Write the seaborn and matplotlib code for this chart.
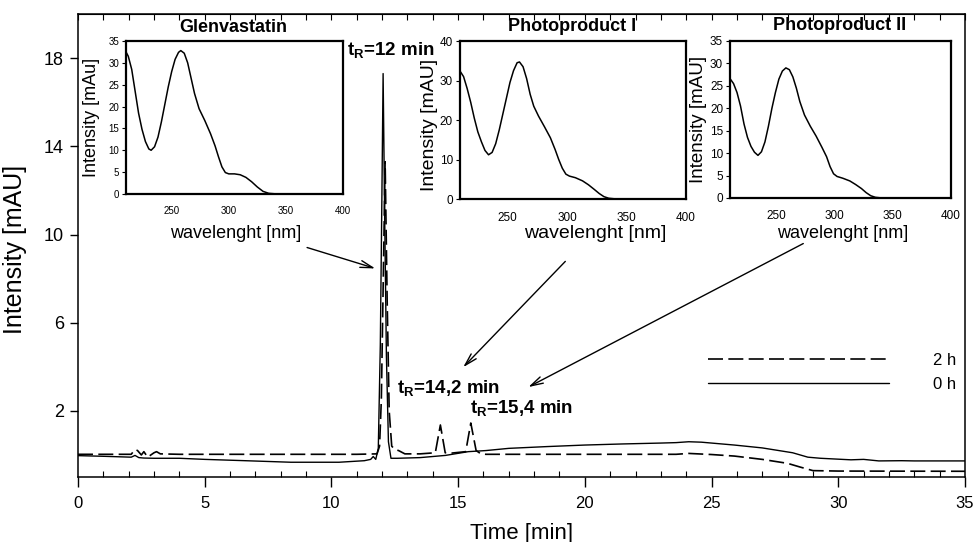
import matplotlib
matplotlib.use("Agg")
import matplotlib.pyplot as plt
import seaborn as sns

# chromatogram 0 h (solid line)
time_0h = [0, 1, 2.1, 2.25, 2.4, 2.6, 3.0, 4, 5, 6.6, 8.4, 10.3, 11.3, 11.55,
           11.65, 11.75, 11.85, 11.93, 11.99, 12.04, 12.1, 12.17, 12.25, 12.35,
           12.6, 13.5, 14.5, 15.4, 16.1, 17, 18.5, 20, 21.5, 23, 23.6, 24.1,
           24.6, 25.9, 27, 28.2, 28.8, 29.3, 30.5, 31, 31.6, 32.5, 33, 35]
int_0h = [-0.03, -0.06, -0.1, -0.02, -0.12, -0.14, -0.15, -0.15, -0.2, -0.26,
          -0.33, -0.33, -0.26, -0.2, -0.07, -0.2, 0.3, 5.0, 11.5, 17.3, 11.0,
          4.5, 0.6, -0.15, -0.15, -0.12, -0.02, 0.15, 0.2, 0.3, 0.38, 0.45,
          0.5, 0.54, 0.56, 0.6, 0.58, 0.45, 0.32, 0.1, -0.1, -0.15, -0.22,
          -0.2, -0.27, -0.26, -0.27, -0.27]

# chromatogram 2 h (dashed line)
time_2h = [0, 2.1, 2.25, 2.35, 2.5, 2.6, 2.75, 3.0, 3.1, 3.25, 4, 8, 11.0,
           11.8, 11.9, 11.97, 12.04, 12.12, 12.2, 12.28, 12.38, 12.5, 12.65,
           12.9, 13.5, 14.1, 14.3, 14.49, 14.7, 15.3, 15.5, 15.71, 15.9, 16.1,
           20, 23.6, 24.1, 25, 25.9, 27, 28, 28.5, 29.0, 30, 35]
int_2h = [0.03, 0.03, 0.25, 0.2, 0.0, 0.15, -0.1, 0.1, 0.15, 0.05, 0.03, 0.03,
          0.03, 0.05, 0.4, 2.5, 7.5, 13.3, 7.0, 2.0, 0.4, 0.25, 0.2, 0.05,
          0.05, 0.1, 1.36, 0.1, 0.08, 0.15, 1.45, 0.2, 0.05, 0.03, 0.03, 0.03,
          0.07, 0.02, -0.05, -0.2, -0.38, -0.55, -0.71, -0.73, -0.74]

# UV spectra shown in the insets
wl_glen = [210, 212, 215, 218, 221, 224, 227, 230, 232, 235, 238, 241, 244,
           247, 250, 253, 256, 258, 261, 264, 267, 270, 274, 279, 284, 288,
           291, 294, 297, 300, 305, 310, 315, 320, 325, 330, 335, 340, 350, 400]
spec_glen = [32.5, 31.5, 28.5, 23.5, 18.5, 14.8, 12, 10.3, 10, 10.8, 13,
             16.5, 20.5, 24.5, 28, 30.8, 32.4, 32.8, 32.2, 30, 26.5, 23, 19.5,
             16.8, 13.8, 11, 8.5, 6.2, 4.9, 4.6, 4.6, 4.4, 3.8, 2.8, 1.6, 0.6,
             0.15, 0.05, 0, 0]
wl_p1 = [210, 213, 216, 219, 222, 225, 228, 231, 234, 237, 240, 243, 246,
         249, 252, 255, 258, 260, 263, 266, 269, 272, 276, 281, 286, 290,
         293, 296, 299, 302, 307, 313, 318, 323, 327, 331, 335, 340, 350, 400]
spec_p1 = [32.4, 31, 28, 24.5, 20.5, 17, 14.5, 12.3, 11.2, 11.8, 14, 17.5,
           21.5, 25.5, 29.5, 32.5, 34.5, 34.7, 33.5, 30.5, 26.5, 23.5, 21,
           18.3, 15.5, 12.5, 10, 7.8, 6.3, 5.8, 5.4, 4.6, 3.6, 2.4, 1.4, 0.6,
           0.2, 0.05, 0, 0]
wl_p2 = [210, 213, 216, 219, 222, 225, 228, 231, 234, 237, 240, 243, 246,
         249, 252, 255, 258, 261, 264, 267, 270, 274, 279, 284, 289, 293,
         296, 299, 302, 307, 313, 318, 323, 327, 331, 335, 340, 350, 400]
spec_p2 = [26.6, 25.5, 23.5, 20.5, 16.5, 13.5, 11.5, 10.2, 9.5, 10.3, 12.5,
           16, 20, 23.5, 26.5, 28.3, 29, 28.6, 27, 24.5, 21.5, 18.5, 16, 13.8,
           11.3, 9.2, 7, 5.4, 4.8, 4.4, 3.8, 3, 2.1, 1.2, 0.5, 0.15, 0.02, 0, 0]

inset_titles = ["Glenvastatin", "Photoproduct I", "Photoproduct II"]
inset_ylabels = ["Intensity [mAu]", "Intensity [mAU]", "Intensity [mAU]"]
peak_times = ["12", "14,2", "15,4"]
legend_labels = ["2 h", "0 h"]

"Style"
sns.set_style("ticks")
plt.rcParams["font.family"] = ["Liberation Sans", "DejaVu Sans"]
plt.rcParams["mathtext.fontset"] = "custom"
plt.rcParams["mathtext.rm"] = "Liberation Sans"
plt.rcParams["mathtext.bf"] = "Liberation Sans:bold"
plt.rcParams["axes.edgecolor"] = "black"
plt.rcParams["axes.labelcolor"] = "black"
plt.rcParams["text.color"] = "black"
plt.rcParams["xtick.color"] = "black"
plt.rcParams["ytick.color"] = "black"

fig = plt.figure(figsize=(9.76, 5.42), dpi=100)
ax = fig.add_axes([0.0799, 0.1199, 0.9088, 0.8542])

"Chromatogram"
dash = (0, (9, 3.2))
sns.lineplot(x=time_2h, y=int_2h, ax=ax, color="black", lw=1.2,
             linestyle=dash, estimator=None, sort=False, label=legend_labels[0])
sns.lineplot(x=time_0h, y=int_0h, ax=ax, color="black", lw=1.0,
             estimator=None, sort=False, label=legend_labels[1])

ax.set_xlim(0, 35)
ax.set_ylim(-1, 20)
ax.set_xticks(range(0, 36, 5))
ax.set_xticks(range(0, 36), minor=True)
ax.set_yticks([2, 6, 10, 14, 18])
ax.tick_params(axis="x", which="major", direction="out", length=7, width=1,
               labelsize=12, pad=7)
ax.tick_params(axis="x", which="minor", direction="in", length=4, width=0.8)
ax.tick_params(axis="y", which="major", direction="out", length=6, width=1,
               labelsize=13, pad=4)
for spine in ax.spines.values():
    spine.set_linewidth(1.1)

top = ax.secondary_xaxis("top")
top.set_xticks(range(0, 36, 5))
top.set_xticks(range(0, 36), minor=True)
top.tick_params(which="both", direction="in", length=4, width=0.8,
                labeltop=False)

ax.set_xlabel("Time [min]", fontsize=16, labelpad=8)
ax.set_ylabel("Intensity [mAU]", fontsize=18)
ax.yaxis.set_label_coords(-0.057, 0.492)

"Legend"
handles = ax.get_lines()[:2]
ax.legend(handles, legend_labels, loc="upper left",
          bbox_to_anchor=(0.710, 0.268), frameon=False, fontsize=12,
          handlelength=10.9, handletextpad=2.6, labelspacing=0.55,
          borderpad=0, borderaxespad=0)

"Peak labels"
label_pos = [(10.62, 18.35), (12.6, 3.05), (15.45, 2.15)]
for (x, y), t in zip(label_pos, peak_times):
    ax.text(x, y, r"$\mathbf{t_R}$" + f"={t} min", fontsize=13.5,
            fontweight="bold", ha="left", va="center")

"Arrows"
arrows = [((9.04, 9.41), (11.73, 8.46)),
          ((19.23, 8.78), (15.2, 3.98)),
          ((28.62, 9.59), (17.77, 3.08))]
for start, end in arrows:
    ax.annotate("", xy=end, xytext=start,
                arrowprops=dict(arrowstyle="->,head_length=0.9,head_width=0.25",
                                color="black", lw=1.0, shrinkA=0, shrinkB=0))

"Insets"
inset_rects = [[0.1291, 0.6421, 0.2223, 0.2823],
               [0.4713, 0.6328, 0.2316, 0.2915],
               [0.7480, 0.6347, 0.2264, 0.2897]]
inset_data = [(wl_glen, spec_glen), (wl_p1, spec_p1), (wl_p2, spec_p2)]
inset_ylims = [(0, 35), (0, 40), (0, 35)]
inset_yticks = [range(0, 36, 5), range(0, 41, 10), range(0, 36, 5)]
tick_sizes = [7, 8.5, 8.5]
xlabel_sizes = [13, 14, 13]
ylabel_sizes = [13, 14, 13.5]
ylabel_x = [-0.12, -0.097, -0.104]
ylabel_y = [0.5, 0.47, 0.5]
xlabel_y = [-0.203, -0.165, -0.17]
xlabel_x = [0.507, 0.6, 0.51]
title_y = [1.09, 1.089, 1.10]

for i, rect in enumerate(inset_rects):
    ins = fig.add_axes(rect)
    wl, spec = inset_data[i]
    sns.lineplot(x=wl, y=spec, ax=ins, color="black", lw=1.1,
                 estimator=None, sort=False)
    ins.set_xlim(210, 400)
    ins.set_ylim(*inset_ylims[i])
    ins.set_xticks([250, 300, 350, 400])
    ins.set_yticks(list(inset_yticks[i]))
    ins.tick_params(axis="x", length=0, labelsize=tick_sizes[i], pad=9)
    ins.tick_params(axis="y", direction="out", length=3, width=0.8,
                    labelsize=tick_sizes[i], pad=2)
    for spine in ins.spines.values():
        spine.set_linewidth(1.6)
    ins.set_xlabel("wavelenght [nm]", fontsize=xlabel_sizes[i])
    ins.xaxis.set_label_coords(xlabel_x[i], xlabel_y[i])
    ins.set_ylabel(inset_ylabels[i], fontsize=ylabel_sizes[i])
    ins.yaxis.set_label_coords(ylabel_x[i], ylabel_y[i])
    ins.text(0.495, title_y[i], inset_titles[i], transform=ins.transAxes,
             fontsize=13, fontweight="bold", ha="center", va="center")

fig.savefig("out.png", dpi=100, facecolor="white")
plt.close(fig)
